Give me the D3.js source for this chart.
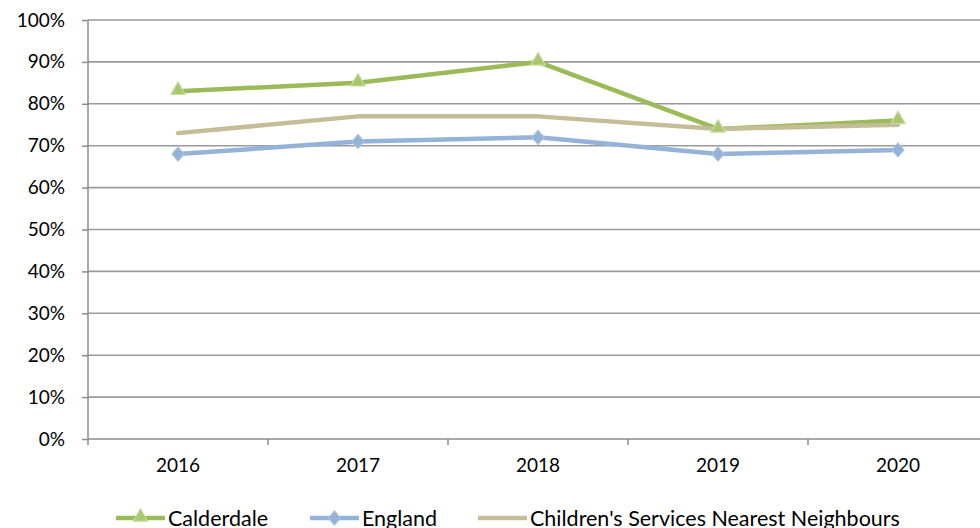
<!DOCTYPE html>
<html><head><meta charset="utf-8">
<script src="https://cdn.jsdelivr.net/npm/d3@7"></script>
<style>body{margin:0;background:#fff;}svg{display:block;font-family:Lato,"Open Sans",sans-serif;}</style>
</head><body>
<svg id="c" width="980" height="528"></svg>
<script>
const years = ["2016","2017","2018","2019","2020"];
const calderdale = [83,85,90,74,76];
const england = [68,71,72,68,69];
const neighbours = [73,77,77,74,75];
const yTicks = [0,10,20,30,40,50,60,70,80,90,100];
const seriesNames = ["Calderdale","England","Children's Services Nearest Neighbours"];

(function(){
const svg = d3.select("#c");
const mLeft = 88, mRight = 988, mTop = 20, mBottom = 439;
const x = d3.scaleBand().domain(years).range([mLeft,mRight]);
const y = d3.scaleLinear().domain([0,100]).range([mBottom,mTop]);

// gridlines
svg.append("g").selectAll("line").data(yTicks.filter(d=>d>0)).join("line")
  .attr("x1",mLeft).attr("x2",980).attr("y1",d=>y(d)).attr("y2",d=>y(d))
  .attr("stroke","#9a9a9a").attr("stroke-width",1.6);

// y axis
const ya = svg.append("g").attr("transform",`translate(${mLeft},0)`)
  .call(d3.axisLeft(y).tickValues(yTicks).tickFormat(d=>d+"%").tickSize(6).tickPadding(17));
ya.select(".domain").attr("stroke","#8c8c8c").attr("stroke-width",1.5).attr("d",`M0,${mTop}V${mBottom}`);
ya.selectAll(".tick line").attr("stroke","#8c8c8c").attr("stroke-width",1.5);
ya.selectAll("text").attr("font-size",19).attr("fill","#000").attr("font-family","Lato, sans-serif");

// x axis
const xa = svg.append("g").attr("transform",`translate(0,${mBottom})`)
  .call(d3.axisBottom(x).tickSize(0).tickPadding(20));
xa.select(".domain").attr("stroke","#8c8c8c").attr("stroke-width",1.5).attr("d",`M${mLeft},0H980`);
xa.selectAll("text").attr("font-size",19).attr("fill","#000").attr("font-family","Lato, sans-serif");
const bounds = [mLeft].concat(years.map(d=>x(d)+x.bandwidth()));
svg.append("g").selectAll("line").data(bounds).join("line")
  .attr("x1",d=>d).attr("x2",d=>d).attr("y1",mBottom).attr("y2",mBottom+6)
  .attr("stroke","#8c8c8c").attr("stroke-width",1.5);

const cx = d => x(d)+x.bandwidth()/2;
const line = d3.line().x((d,i)=>cx(years[i])).y(d=>y(d));
const series = [
  {name:seriesNames[0], data:calderdale, color:"#9BBB59", mark:"tri", mfill:"#A9C86E", mstroke:"#C6DBA0"},
  {name:seriesNames[1], data:england, color:"#95B3D7", mark:"dia", mfill:"#95B3D7", mstroke:"#A8C1E0"},
  {name:seriesNames[2], data:neighbours, color:"#C4BD97", mark:null}
];
const tri = d3.symbol().type(d3.symbolTriangle).size(90);
const dia = "M0,-7L6,0L0,7L-6,0Z";

const order = [1,0,2];
order.forEach(k=>{
  const s = series[k];
  svg.append("path").datum(s.data).attr("d",line).attr("fill","none")
    .attr("stroke",s.color).attr("stroke-width",4.5).attr("stroke-linejoin","round").attr("stroke-linecap","round");
});
order.forEach(k=>{
  const s = series[k];
  if(!s.mark) return;
  svg.append("g").selectAll("path").data(s.data).join("path")
    .attr("transform",(d,i)=>`translate(${cx(years[i])},${y(d)-(s.mark==="tri"?1:0)})`)
    .attr("d", s.mark==="tri"? tri() : dia)
    .attr("fill",s.mfill).attr("stroke",s.mstroke).attr("stroke-width",1.2);
});
// legend
const legX = [116,310,478];
const legY = 518;
series.forEach((s,i)=>{
  const g = svg.append("g").attr("transform",`translate(${legX[i]},${legY})`);
  g.append("line").attr("x1",0).attr("x2",49).attr("y1",0).attr("y2",0)
    .attr("stroke",s.color).attr("stroke-width",4.5);
  if(s.mark) g.append("path").attr("transform",`translate(24.5,${s.mark==="tri"?-1:0})`)
    .attr("d", s.mark==="tri"? tri() : dia).attr("fill",s.mfill).attr("stroke",s.mstroke).attr("stroke-width",1.2);
  g.append("text").attr("x",52).attr("y",8).attr("font-size",21.5).attr("fill","#000")
    .attr("font-family","Lato, sans-serif").text(s.name);
});
})();
</script>
</body></html>
